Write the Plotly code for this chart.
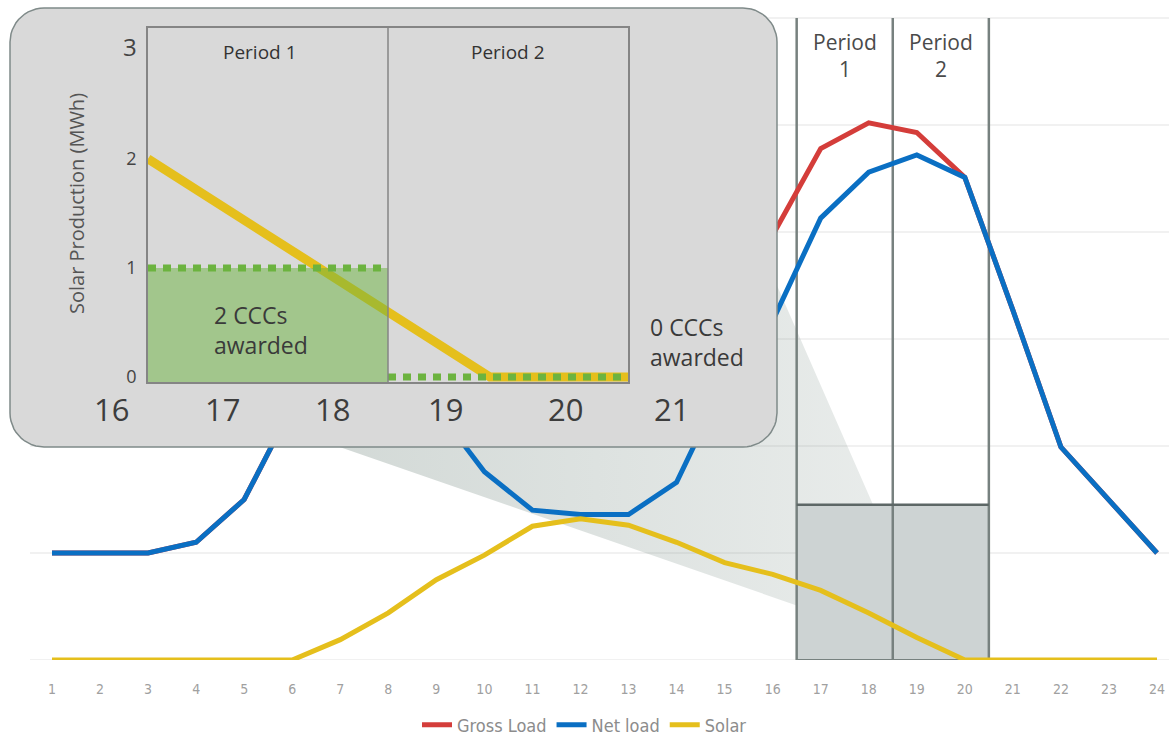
import numpy as np
import plotly.graph_objects as go

# ---------------- data ----------------
hours = list(range(1, 25))
hour_labels = [str(h) for h in hours]
gross_load = [1.0, 1.0, 1.0, 1.10, 1.50, 2.37, 3.09, 3.29, 3.10, 2.74, 2.65, 2.68,
              2.62, 2.76, 3.51, 3.97, 4.78, 5.02, 4.93, 4.51, 3.27, 1.99, 1.50, 1.0]
net_load = [1.0, 1.0, 1.0, 1.10, 1.50, 2.37, 2.90, 2.85, 2.35, 1.76, 1.40, 1.36,
            1.36, 1.66, 2.60, 3.17, 4.13, 4.56, 4.72, 4.51, 3.27, 1.99, 1.50, 1.0]
solar = [0, 0, 0, 0, 0, 0, 0.19, 0.44, 0.75, 0.98, 1.25, 1.32,
         1.26, 1.10, 0.91, 0.80, 0.65, 0.44, 0.21, 0, 0, 0, 0, 0]
series_names = ["Gross Load", "Net load", "Solar"]

period_edges = [16.5, 18.5, 20.5]
period_names_main = ["Period<br>1", "Period<br>2"]
period_names_inset = ["Period 1", "Period 2"]
highlight_top = 1.45
grid_max = 6

inset_hours = [16.5, 19.35, 20.5]
inset_solar = [2.0, 0.0, 0.0]
ccc_threshold = [1.0, 0.0]
ccc_text = ["2 CCCs<br>awarded", "0 CCCs<br>awarded"]
inset_tick_labels = ["16", "17", "18", "19", "20", "21"]
inset_tick_pos = [16.2, 17.12, 18.04, 18.975, 19.975, 20.86]
inset_yticks = [0, 1, 2, 3]
inset_ytitle = "Solar Production (MWh)"

# zoom-cone outline (decoration, main-axis units)
cone_x = [6.16, 16.5, 16.5, 18.09, 15.7, 7.0, 6.16]
cone_y = [2.12, 0.51, 1.45, 1.45, 3.9, 3.9, 2.12]

# ---------------- styles ----------------
RED, BLUE, YELLOW, GREEN = "#d43d3a", "#0a6fc3", "#e5bf1c", "#6cb33f"
W, H = 1169, 736
PB = 660  # plot-area bottom in px (top = 0)

# inset plot frame in px
IX0, IX1, IY0, IY1 = 148, 628, 28, 382
IXR = [16.5, 20.5]
IYR = [-0.046, 3.2]


def pxx(px):
    return px / W


def pxy(py):
    return (PB - py) / PB


def inset_x_to_paper(v):
    return pxx(IX0 + (v - IXR[0]) / (IXR[1] - IXR[0]) * (IX1 - IX0))


def inset_y_to_paper(v):
    return pxy(IY1 - (v - IYR[0]) / (IYR[1] - IYR[0]) * (IY1 - IY0))


NARROW = "Liberation Sans Narrow, DejaVu Sans Condensed, Arial Narrow, sans-serif"
SANS = "Open Sans, Lato, sans-serif"

fig = go.Figure()

# zoom cone with gradient
fig.add_trace(go.Scatter(x=cone_x, y=cone_y, mode="lines", fill="toself",
                         fillgradient=dict(type="horizontal",
                                           colorscale=[[0, "rgba(120,140,132,0.34)"],
                                                       [1, "rgba(120,140,132,0.17)"]]),
                         line=dict(width=0), showlegend=False, hoverinfo="skip",
                         xaxis="x", yaxis="y"))

# period boundaries and highlight top
bx_, by_ = [], []
for e in period_edges:
    bx_ += [e, e, None]
    by_ += [0, grid_max, None]
fig.add_trace(go.Scatter(x=bx_, y=by_, mode="lines", line=dict(color="#77817f", width=2.5),
                         showlegend=False, hoverinfo="skip", xaxis="x", yaxis="y"))
fig.add_trace(go.Scatter(x=[period_edges[0], period_edges[-1]], y=[highlight_top, highlight_top],
                         mode="lines", line=dict(color="#5d6766", width=2.5),
                         showlegend=False, hoverinfo="skip", xaxis="x", yaxis="y"))

# main series
for name, vals, col in zip(series_names, [gross_load, net_load, solar], [RED, BLUE, YELLOW]):
    fig.add_trace(go.Scatter(x=hours, y=vals, name=name, mode="lines",
                             line=dict(color=col, width=5), cliponaxis=False,
                             xaxis="x", yaxis="y"))


# inset rounded box (decoration) on its own subplot, drawn over the main lines
def rounded_rect(x0, y0, x1, y1, r, n=14):
    xs, ys = [], []
    corners = [(x1 - r, y0 + r, -90, 0), (x1 - r, y1 - r, 0, 90),
               (x0 + r, y1 - r, 90, 180), (x0 + r, y0 + r, 180, 270)]
    for cx, cy, a0, a1 in corners:
        for t in np.linspace(np.radians(a0), np.radians(a1), n):
            xs.append(cx + r * np.cos(t))
            ys.append(cy + r * np.sin(t))
    xs.append(xs[0]); ys.append(ys[0])
    return xs, ys


bx, by = rounded_rect(10, 8, 777, 447, 34)
fig.add_trace(go.Scatter(x=bx, y=by, mode="lines", fill="toself", fillcolor="#d9d9d9",
                         line=dict(color="#7f8a89", width=1.5), showlegend=False,
                         hoverinfo="skip", xaxis="x2", yaxis="y2"))

# inset plot
fig.add_trace(go.Scatter(x=inset_hours, y=inset_solar, mode="lines",
                         line=dict(color=YELLOW, width=9), showlegend=False,
                         xaxis="x3", yaxis="y3", cliponaxis=False))
fig.add_trace(go.Scatter(x=[period_edges[0], period_edges[1], period_edges[1], period_edges[0]],
                         y=[IYR[0], IYR[0], ccc_threshold[0], ccc_threshold[0]], mode="lines",
                         fill="toself", fillcolor="rgba(108,179,63,0.5)", line=dict(width=0),
                         showlegend=False, xaxis="x3", yaxis="y3"))
tx, ty = [], []
for i, thr in enumerate(ccc_threshold):
    tx += [period_edges[i], period_edges[i + 1], None]
    ty += [thr, thr, None]
fig.add_trace(go.Scatter(x=tx, y=ty, mode="lines", line=dict(color=GREEN, width=7, dash="8px,7px"),
                         showlegend=False, xaxis="x3", yaxis="y3", cliponaxis=False))

shapes = []
# highlighted area
shapes.append(dict(type="rect", xref="x", yref="y", layer="below",
                   x0=period_edges[0], x1=period_edges[-1], y0=0, y1=highlight_top,
                   fillcolor="#cdd3d3", line=dict(width=0)))
# grid lines
for v in range(grid_max + 1):
    shapes.append(dict(type="line", xref="paper", yref="y", layer="below",
                       x0=pxx(30), x1=1, y0=v, y1=v, line=dict(color="#ececec", width=1.5)))
shapes.append(dict(type="line", xref="x", yref="y", layer="below", x0=period_edges[0],
                   x1=period_edges[-1], y0=0, y1=0, line=dict(color="#77817f", width=2)))
# inset divider
shapes.append(dict(type="line", xref="x3", yref="y3", layer="above", x0=period_edges[1],
                   x1=period_edges[1], y0=IYR[0], y1=IYR[1], line=dict(color="#858585", width=1.5)))

annotations = []
for i, nm in enumerate(period_names_main):
    annotations.append(dict(x=(period_edges[i] + period_edges[i + 1]) / 2, y=5.65, xref="x", yref="y",
                            text=nm, showarrow=False,
                            font=dict(family=SANS, size=21, color="#4a4a4a")))
for i, nm in enumerate(period_names_inset):
    annotations.append(dict(x=(period_edges[i] + period_edges[i + 1]) / 2, y=2.98, xref="x3", yref="y3",
                            text=nm, showarrow=False, xshift=-8 if i == 0 else 0,
                            font=dict(family=SANS, size=19, color="#333333")))
for lab, pos in zip(inset_tick_labels, inset_tick_pos):
    annotations.append(dict(x=inset_x_to_paper(pos), y=inset_y_to_paper(-0.29), xref="paper",
                            yref="paper", text=lab, showarrow=False, xanchor="center",
                            yanchor="middle", font=dict(family=SANS, size=31, color="#3d3d3d")))
annotations.append(dict(x=pxx(76), y=pxy(204), xref="paper", yref="paper", text=inset_ytitle,
                        textangle=-90, showarrow=False, xanchor="center", yanchor="middle",
                        font=dict(family=SANS, size=20, color="#555555")))
annotations.append(dict(x=pxx(212), y=pxy(330), xref="paper", yref="paper", text=ccc_text[0],
                        xanchor="left", yanchor="middle", align="left", showarrow=False,
                        font=dict(family=SANS, size=23, color="#3a3a3a")))
annotations.append(dict(x=pxx(648), y=pxy(342), xref="paper", yref="paper", text=ccc_text[1],
                        xanchor="left", yanchor="middle", align="left", showarrow=False,
                        font=dict(family=SANS, size=23, color="#3a3a3a")))

inset_ytext = [str(v) if v < max(inset_yticks) else f'<span style="font-size:24px">{v}</span>'
               for v in inset_yticks]

s = (1157 - 52) / 23
x0 = 1 - 52 / s
fig.update_layout(
    width=W, height=H,
    margin=dict(l=0, r=0, t=0, b=H - PB, autoexpand=False),
    paper_bgcolor="white", plot_bgcolor="rgba(0,0,0,0)",
    showlegend=True,
    legend=dict(orientation="h", x=0.5, xanchor="center", y=pxy(725), yanchor="middle",
                font=dict(family=NARROW, size=18, color="#8c8c8c"), itemwidth=30,
                bgcolor="rgba(0,0,0,0)"),
    xaxis=dict(domain=[0, 1], range=[x0, x0 + W / s], tickmode="array", tickvals=hours,
               ticktext=hour_labels, ticks="outside", ticklen=16, tickcolor="rgba(0,0,0,0)",
               showgrid=False, zeroline=False, showline=False, automargin=False,
               tickfont=dict(family=NARROW, size=14, color="#a0a0a0"), anchor="y"),
    yaxis=dict(domain=[0, 1], range=[0, PB / 107], showgrid=False, zeroline=False,
               showticklabels=False, anchor="x", automargin=False),
    xaxis2=dict(domain=[pxx(8), pxx(779)], range=[8, 779], visible=False, anchor="y2"),
    yaxis2=dict(domain=[pxy(449), pxy(6)], range=[449, 6], visible=False, anchor="x2"),
    xaxis3=dict(domain=[pxx(IX0), pxx(IX1)], range=IXR, showticklabels=False,
                showgrid=False, zeroline=False, showline=True, mirror=True, automargin=False,
                linecolor="#858585", linewidth=1.5, anchor="y3"),
    yaxis3=dict(domain=[pxy(IY1), pxy(IY0)], range=IYR, tickmode="array", tickvals=inset_yticks,
                ticktext=inset_ytext,
                showgrid=False, zeroline=False, showline=True, mirror=True, automargin=False,
                linecolor="#858585", linewidth=1.5, ticks="", ticklabelstandoff=6,
                tickfont=dict(family=SANS, size=18, color="#444444"), anchor="x3"),
    shapes=shapes, annotations=annotations,
)

fig.write_html("out.html", config={"displayModeBar": False},
               post_script="document.body.style.margin='0';")
